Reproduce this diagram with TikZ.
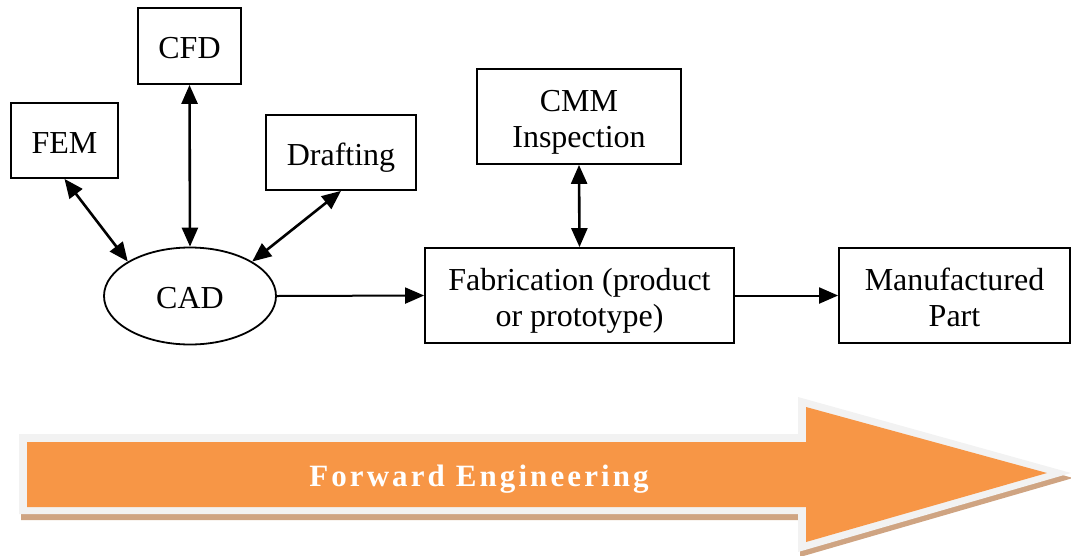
\documentclass[tikz,border=0pt]{standalone}
\usepackage{fontspec}
\setmainfont{Liberation Serif}
\usetikzlibrary{shapes.geometric,arrows.meta}
\definecolor{fwdorange}{HTML}{F79646}
\definecolor{fwdgray}{HTML}{F2F2F2}
\definecolor{fwdshadow}{HTML}{CFA482}
% centred label whose cap line sits in the middle of its box
\newcommand{\boxlabel}[1]{\raisebox{-12pt}[0pt][0pt]{\begin{tabular}{@{}c@{}}#1\end{tabular}}}
\begin{document}
\begin{tikzpicture}[x=1pt,y=-1pt,
  box/.style={draw, line width=1.8pt, inner sep=0pt,
    font=\fontsize{32}{36}\selectfont},
  link/.style={line width=2.6pt,
    arrows={Triangle[length=19pt 0 0,width=16pt 0 0]-Triangle[length=19pt 0 0,width=16pt 0 0]}},
  flow/.style={line width=2pt,
    arrows={-Triangle[length=19pt 0 0,width=16pt 0 0]}}]
\useasboundingbox (0,0) rectangle (1071,555);

% tool boxes around the CAD model
\node[box, minimum width=103pt, minimum height=76pt] (cfd) at (189.5,46) {\boxlabel{CFD}};
\node[box, minimum width=107pt, minimum height=75pt] (fem) at (64.5,140.5) {\boxlabel{FEM}};
\node[box, minimum width=150pt, minimum height=75pt] (draft) at (341,152.5) {\boxlabel{Drafting}};
\node[box, ellipse, minimum width=172pt, minimum height=97pt] (cad) at (190,296) {\boxlabel{CAD}};

% production chain
\node[box, minimum width=204pt, minimum height=95pt] (cmm) at (579,116.5) {\boxlabel{CMM\\Inspection}};
\node[box, minimum width=309pt, minimum height=95pt] (fab) at (579.5,295.5) {\boxlabel{Fabrication (product\\or prototype)}};
\node[box, minimum width=231pt, minimum height=95pt] (man) at (954.5,295.5) {\boxlabel{Manufactured\\Part}};

% connectors
\draw[link] (fem.south) -- (cad.151);
\draw[link] (cfd.south) -- (cad.north);
\draw[link] (draft.south) -- (cad.29);
\draw[link] (cmm.south) -- (fab.north);
\draw[flow] (cad.east) -- (fab.west);
\draw[flow] (fab.east) -- (man.west);

% block arrow along the bottom
\fill[fwdshadow] (21,439) -- (800,439) -- (800,402) -- (1073,478) -- (800,557) -- (800,520) -- (21,520) -- cycle;
\fill[fwdgray] (19,434) -- (798,434) -- (798,397) -- (1071,473) -- (798,552) -- (798,514) -- (19,514) -- cycle;
\fill[fwdorange] (27,442) -- (806,442) -- (806,407) -- (1047,473) -- (806,542) -- (806,507) -- (27,507) -- cycle;
\node[text=white, anchor=base, inner sep=0pt,
  font={\fontsize{31}{36}\selectfont\bfseries\addfontfeatures{LetterSpace=10}}]
  (fwd) at (479,486) {Forward Engineering};
\end{tikzpicture}
\end{document}
